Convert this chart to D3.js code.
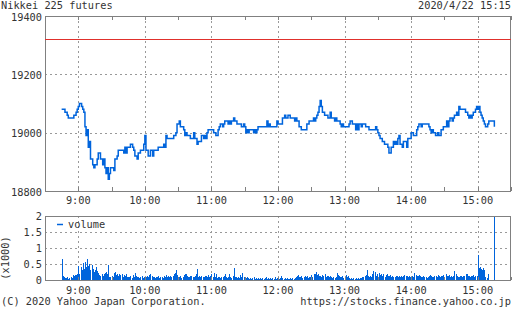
<!DOCTYPE html>
<html><head><meta charset="utf-8">
<script src="https://cdn.jsdelivr.net/npm/d3@7"></script>
<style>
body{margin:0;background:#fff}
svg{display:block}
text{font-family:"DejaVu Sans Mono","Liberation Mono",monospace;font-size:10.3px;fill:#333}
</style>
</head><body>
<svg id="c" width="512" height="310"></svg>
<script>
const title = "Nikkei 225 futures";
const stamp = "2020/4/22 15:15";
const copyright = "(C) 2020 Yahoo Japan Corporation.";
const url = "https://stocks.finance.yahoo.co.jp";
const sessionRange = ["8:30", "15:30"];
const hourTicks = ["9:00","10:00","11:00","12:00","13:00","14:00","15:00"];
const halfHourTicks = ["8:30","9:00","9:30","10:00","10:30","11:00","11:30","12:00","12:30","13:00","13:30","14:00","14:30","15:00","15:30"];
const priceTicks = [18800, 19000, 19200, 19400];
const volumeTicks = [0, 0.5, 1, 1.5, 2];
const volumeTickLabels = ["0", "0.5", "1", "1.5", "2"];
const prevClose = 19320;

const price = [
["8:45",19080],["8:48",19070],["8:50",19060],["8:51",19050],["8:56",19060],["8:58",19070],["8:59",19080],
["9:00",19090],["9:01",19100],["9:03",19090],["9:04",19080],["9:05",19070],["9:06",19020],["9:07",18990],
["9:08",19010],["9:09",18950],["9:10",18970],["9:11",18910],["9:13",18890],["9:14",18880],["9:15",18890],
["9:17",18910],["9:18",18930],["9:20",18910],["9:22",18890],["9:23",18910],["9:24",18880],["9:25",18860],
["9:26",18880],["9:27",18840],["9:28",18860],["9:29",18880],["9:32",18870],["9:33",18910],["9:35",18920],
["9:36",18940],["9:41",18930],["9:42",18950],["9:43",18930],["9:44",18950],["9:47",18960],["9:49",18950],
["9:50",18940],["9:51",18920],["9:53",18910],["9:54",18930],["9:56",18940],["9:59",18960],["10:00",18990],
["10:01",18940],["10:03",18920],["10:05",18940],["10:07",18920],["10:08",18940],["10:12",18950],["10:17",18960],
["10:18",18950],["10:19",18990],["10:20",18980],["10:26",18990],["10:28",19000],["10:29",19030],["10:31",19040],
["10:32",19020],["10:35",19010],["10:36",18990],["10:37",19000],["10:38",18990],["10:41",18980],["10:44",19000],
["10:45",18980],["10:47",18960],["10:48",18970],["10:51",18990],["10:53",18980],["10:54",18990],["10:55",18980],
["10:56",19000],["10:57",19010],["11:02",19000],["11:04",18990],["11:06",19010],["11:07",19020],["11:08",19030],
["11:10",19020],["11:11",19030],["11:12",19040],["11:15",19030],["11:16",19040],["11:17",19030],["11:18",19040],
["11:20",19050],["11:21",19040],["11:23",19030],["11:27",19020],["11:29",19030],["11:30",19020],["11:31",19000],
["11:32",19010],["11:33",19000],["11:34",19010],["11:38",19000],["11:39",19010],["11:40",19000],["11:41",19010],
["11:42",19020],["11:50",19040],["11:51",19020],["11:52",19030],["11:53",19020],["11:59",19040],["12:00",19030],
["12:04",19050],["12:06",19060],["12:07",19050],["12:09",19060],["12:11",19050],["12:15",19040],["12:16",19050],
["12:17",19040],["12:19",19020],["12:21",19010],["12:26",19030],["12:28",19040],["12:32",19050],["12:33",19040],
["12:34",19050],["12:35",19060],["12:36",19070],["12:37",19090],["12:38",19110],["12:39",19090],["12:40",19070],
["12:42",19060],["12:45",19050],["12:47",19070],["12:48",19050],["12:51",19040],["12:52",19050],["12:53",19040],
["12:56",19030],["12:57",19020],["12:58",19030],["12:59",19020],["13:04",19030],["13:05",19040],["13:07",19030],
["13:10",19010],["13:11",19030],["13:12",19010],["13:13",19030],["13:15",19020],["13:16",19030],["13:19",19020],
["13:22",19010],["13:28",19020],["13:29",19010],["13:30",19000],["13:31",18990],["13:32",18980],["13:34",18970],
["13:36",18960],["13:39",18950],["13:40",18930],["13:42",18950],["13:44",18970],["13:45",18960],["13:46",18970],
["13:47",18960],["13:48",18980],["13:49",18990],["13:50",18960],["13:52",18950],["13:53",18970],["13:56",18950],
["13:57",18980],["14:00",19000],["14:02",18990],["14:05",19010],["14:06",19020],["14:07",19030],["14:09",19020],
["14:10",19030],["14:16",19020],["14:17",19010],["14:18",19000],["14:19",19010],["14:20",19000],["14:22",18990],
["14:24",19000],["14:25",18990],["14:27",19010],["14:29",19020],["14:32",19040],["14:33",19020],["14:34",19040],
["14:35",19050],["14:37",19040],["14:38",19050],["14:39",19060],["14:41",19070],["14:42",19060],["14:43",19090],
["14:44",19080],["14:49",19070],["14:51",19060],["14:52",19050],["14:53",19060],["14:54",19050],["14:55",19060],
["14:56",19070],["14:58",19080],["14:59",19090],["15:00",19080],["15:01",19090],["15:02",19070],["15:03",19060],
["15:04",19050],["15:05",19040],["15:06",19030],["15:07",19020],["15:09",19030],["15:10",19040],["15:15",19020]
];

// per-minute volume (x1000) from 8:45 to 15:09
const volumeStart = "8:45";
const volume = [
0.65,0.12,0.08,0.06,0.05,0.08,0.04,0.06,0.10,0.05,0.15,0.14,0.16,0.15,0.18,0.45,0.2,0.42,0.3,0.52,0.35,0.55,0.4,0.65,0.45,0.5,0.3,0.48,0.35,0.25,
0.3,0.4,0.28,0.22,0.15,0.12,0.18,0.14,0.2,0.22,0.25,0.18,0.48,0.1,0.08,0.12,0.1,0.22,0.25,0.15,0.2,0.12,0.18,0.15,0.2,0.1,0.15,0.12,0.18,0.1,
0.1,0.08,0.12,0.06,0.15,0.1,0.22,0.12,0.08,0.1,0.05,0.08,0.12,0.06,0.1,0.04,0.08,0.12,0.1,0.15,0.18,0.12,0.08,0.1,0.06,0.1,0.08,0.12,0.05,0.08,
0.1,0.06,0.12,0.08,0.15,0.1,0.12,0.08,0.14,0.1,0.12,0.18,0.22,0.3,0.15,0.1,0.08,0.12,0.06,0.1,0.15,0.2,0.18,0.12,0.1,0.08,0.12,0.14,0.08,0.1,
0.12,0.2,0.34,0.1,0.12,0.08,0.12,0.1,0.08,0.14,0.12,0.1,0.15,0.08,0.12,0.18,0.1,0.22,0.08,0.2,0.06,0.08,0.1,0.06,0.08,0.1,0.12,0.2,0.08,0.06,
0.08,0.2,0.1,0.06,0.12,0.38,0.1,0.08,0.06,0.1,0.05,0.16,0.08,0.22,0.1,0.08,0.06,0.1,0.05,0.04,0.06,0.03,0.05,0.08,0.04,0.06,0.03,0.05,0.04,0.06,
0.04,0.06,0.03,0.05,0.08,0.03,0.06,0.04,0.05,0.03,0.06,0.04,0.08,0.03,0.05,0.1,0.04,0.06,0.12,0.05,0.03,0.06,0.04,0.05,0.03,0.04,0.06,0.03,0.05,0.04,
0.06,0.08,0.12,0.16,0.08,0.1,0.12,0.06,0.1,0.14,0.08,0.12,0.06,0.1,0.08,0.15,0.1,0.18,0.2,0.26,0.15,0.2,0.12,0.14,0.1,0.16,0.12,0.18,0.1,0.14,
0.12,0.08,0.14,0.1,0.06,0.08,0.05,0.1,0.22,0.15,0.12,0.1,0.08,0.12,0.06,0.1,0.15,0.08,0.12,0.06,0.04,0.05,0.03,0.06,0.04,0.05,0.03,0.06,0.04,0.05,
0.06,0.08,0.1,0.12,0.15,0.32,0.12,0.08,0.14,0.1,0.2,0.27,0.25,0.12,0.18,0.1,0.22,0.15,0.2,0.12,0.18,0.1,0.15,0.2,0.12,0.14,0.16,0.1,0.12,0.08,
0.1,0.12,0.14,0.1,0.12,0.08,0.14,0.1,0.12,0.15,0.12,0.14,0.08,0.12,0.1,0.08,0.12,0.1,0.22,0.15,0.12,0.14,0.16,0.12,0.08,0.1,0.12,0.08,0.1,0.06,
0.1,0.14,0.16,0.12,0.08,0.1,0.12,0.14,0.1,0.15,0.12,0.08,0.14,0.12,0.16,0.1,0.2,0.14,0.12,0.16,0.1,0.12,0.08,0.14,0.27,0.2,0.12,0.08,0.1,0.12,
0.12,0.1,0.14,0.12,0.18,0.2,0.14,0.12,0.1,0.14,0.12,0.16,0.1,0.14,0.12,0.78,0.38,0.4,0.35,0.32,0.36,0.3,0.1,0.05,0.18
];
const closingTime = "15:15";
const closingVolume = 2.4;

const BLUE = "#0064dc", RED = "#e0302c", GRID = "#999", FRAME = "#808080";
const t = s => { const [h, m] = s.split(":").map(Number); return new Date(2020, 3, 22, h, m); };

const svg = d3.select("#c");
const L = 45, R = 511;
const pTop = 16, pBot = 191, vTop = 216, vBot = 280;

const x = d3.scaleTime().domain(sessionRange.map(t)).range([L, R]);
const yP = d3.scaleLinear().domain([18800, 19400]).range([pBot, pTop]);
const yV = d3.scaleLinear().domain([0, 2]).range([vBot, vTop]);

svg.append("text").attr("x", 1).attr("y", 8.5).text(title);
svg.append("text").attr("x", 511).attr("y", 8.5).attr("text-anchor", "end").text(stamp);

function panel(top, bot, yScale, hTicks) {
  const g = svg.append("g").attr("shape-rendering", "crispEdges");
  g.selectAll(".hg").data(hTicks).join("line")
    .attr("x1", L).attr("x2", R)
    .attr("y1", d => Math.round(yScale(d)) + 0.5).attr("y2", d => Math.round(yScale(d)) + 0.5)
    .attr("stroke", GRID).attr("stroke-dasharray", "2,3");
  g.selectAll(".vg").data(hourTicks).join("line")
    .attr("x1", d => Math.round(x(t(d))) + 0.5).attr("x2", d => Math.round(x(t(d))) + 0.5)
    .attr("y1", top).attr("y2", bot)
    .attr("stroke", GRID).attr("stroke-dasharray", "2,3");
  return g;
}

// price panel
panel(pTop, pBot, yP, [19000, 19200]);
const fr1 = svg.append("g").attr("shape-rendering", "crispEdges");
fr1.selectAll(".tt").data(halfHourTicks).join("line")
  .attr("x1", d => Math.round(x(t(d))) + 0.5).attr("x2", d => Math.round(x(t(d))) + 0.5)
  .attr("y1", pTop).attr("y2", pTop + 4).attr("stroke", FRAME);
fr1.selectAll(".tb").data(halfHourTicks).join("line")
  .attr("x1", d => Math.round(x(t(d))) + 0.5).attr("x2", d => Math.round(x(t(d))) + 0.5)
  .attr("y1", pBot - 4).attr("y2", pBot).attr("stroke", FRAME);

svg.append("line").attr("shape-rendering", "crispEdges")
  .attr("x1", L).attr("x2", R)
  .attr("y1", Math.round(yP(prevClose)) + 0.5).attr("y2", Math.round(yP(prevClose)) + 0.5)
  .attr("stroke", RED).attr("stroke-width", 1);

const line = d3.line().x(d => x(t(d[0]))).y(d => yP(d[1])).curve(d3.curveStepAfter);
svg.append("path").datum(price).attr("d", line)
  .attr("fill", "none").attr("stroke", BLUE).attr("stroke-width", 1.5);

fr1.append("rect").attr("x", L + 0.5).attr("y", pTop + 0.5).attr("width", R - L - 1).attr("height", pBot - pTop)
  .attr("fill", "none").attr("stroke", FRAME);

svg.selectAll(".py").data(priceTicks).join("text")
  .attr("x", 42).attr("y", d => yP(d)).attr("dy", "0.45em").attr("text-anchor", "end")
  .text(d => d);
svg.selectAll(".px").data(hourTicks).join("text")
  .attr("x", d => x(t(d))).attr("y", 204).attr("text-anchor", "middle").text(d => d);

// volume panel
panel(vTop, vBot, yV, [0.5, 1, 1.5]);
svg.append("clipPath").attr("id", "vc").append("rect")
  .attr("x", L).attr("y", vTop).attr("width", R - L).attr("height", vBot - vTop);
const vg = svg.append("g").attr("clip-path", "url(#vc)").attr("shape-rendering", "crispEdges");
const v0 = t(volumeStart);
const bars = volume.map((v, i) => ({ time: d3.timeMinute.offset(v0, i), v }));
bars.push({ time: t(closingTime), v: closingVolume });
vg.selectAll("rect").data(bars).join("rect")
  .attr("x", d => Math.round(x(d.time))).attr("width", 1)
  .attr("y", d => yV(d.v)).attr("height", d => yV(0) - yV(d.v))
  .attr("fill", BLUE);

const fr2 = svg.append("g").attr("shape-rendering", "crispEdges");
fr2.selectAll(".tb").data(halfHourTicks).join("line")
  .attr("x1", d => Math.round(x(t(d))) + 0.5).attr("x2", d => Math.round(x(t(d))) + 0.5)
  .attr("y1", vBot - 3).attr("y2", vBot).attr("stroke", FRAME);
fr2.append("rect").attr("x", L + 0.5).attr("y", vTop + 0.5).attr("width", R - L - 1).attr("height", vBot - vTop)
  .attr("fill", "none").attr("stroke", FRAME);

svg.selectAll(".vy").data(volumeTicks).join("text")
  .attr("x", 42).attr("y", d => yV(d)).attr("dy", "0.36em").attr("text-anchor", "end")
  .text((d, i) => volumeTickLabels[i]);
svg.selectAll(".vx").data(hourTicks).join("text")
  .attr("x", d => x(t(d))).attr("y", 294).attr("text-anchor", "middle").text(d => d);
svg.append("text").attr("transform", "translate(9,258) rotate(-90)").attr("text-anchor", "middle").text("(x1000)");

// legend
svg.append("line").attr("x1", 57).attr("x2", 63).attr("y1", 224.5).attr("y2", 224.5)
  .attr("stroke", BLUE).attr("stroke-width", 1.5);
svg.append("text").attr("x", 68).attr("y", 224).attr("dy", "0.36em").attr("fill", "#222").text("volume");

svg.append("text").attr("x", 1).attr("y", 305).text(copyright);
svg.append("text").attr("x", 511).attr("y", 305).attr("text-anchor", "end").text(url);
</script>
</body></html>
